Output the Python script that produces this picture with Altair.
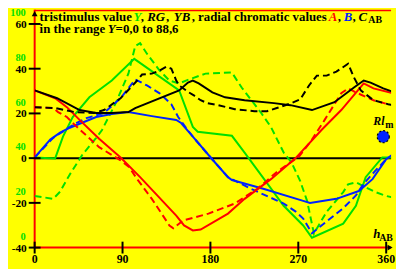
import altair as alt
import pandas as pd

# ---------------- data (hue angle in degrees) ----------------
# radial chroma C_AB (solid and dashed)
HUE_C = [0, 23, 46, 63, 79, 96, 103, 148, 157, 162, 168, 182, 195, 215, 245, 262, 284, 307, 327, 337, 344, 357, 371]
C_VAL = [30.3, 26.8, 21.5, 20.2, 20.2, 20.6, 22.4, 30.3, 33.8, 34.7, 33.4, 29.4, 27.2, 25.9, 24.6, 23.7, 21.5, 25.0, 31.6, 34.7, 33.8, 31.2, 29.0]
HUE_C2 = [0, 21, 41, 61, 71, 88, 105, 110, 120, 128, 135, 140, 145, 148, 158, 163, 170, 177, 188, 205,
          225, 238, 248, 263, 272, 281, 289, 299, 309, 321, 327, 334, 347, 362, 373]
C_VAL2 = [22.8, 22.4, 20.6, 20.2, 21.5, 26.8, 34.7, 37.4, 37.8, 39.2, 40.9, 40.0, 34.7, 32.5, 29.4, 28.1, 25.9, 24.6, 23.7, 21.9,
          21.0, 21.0, 22.4, 24.6, 26.3, 32.5, 36.9, 36.9, 38.7, 42.2, 36.1, 30.3, 25.9, 24.1, 23.3]
# chromatic value A (red)
HUE_A = [0, 21, 33, 46, 66, 88, 108, 145, 153, 162, 170, 198, 215, 242, 267, 294, 314, 331, 337, 347, 367]
A_VAL = [30.3, 26.8, 22.8, 17.1, 8.7, 0.3, -8.5, -25.7, -30.1, -32.3, -31.9, -24.8, -18.2, -9.4, -0.1, 12.7, 21.5, 30.3, 33.4, 31.2, 29.0]
HUE_A2 = [0, 19, 24, 33, 41, 66, 88, 97, 105, 120, 138, 142, 152, 178, 205, 228, 248, 271, 284, 297, 314, 321, 329, 347, 362]
A_VAL2 = [22.8, 22.4, 20.6, 18.4, 14.9, 4.9, -1.0, -4.1, -9.4, -18.2, -30.1, -31.4, -27.9, -24.8, -20.3, -13.7, -6.2, 0.8, 8.3, 17.1, 29.0, 31.2, 29.4, 25.9, 24.1]
# chromatic value B (blue)
HUE_B = [0, 16, 26, 36, 63, 79, 96, 120, 145, 150, 162, 182, 198, 202, 235, 275, 282, 309, 332, 346, 360, 373]
B_VAL = [0.3, 8.3, 11.4, 13.6, 18.4, 19.7, 20.6, 18.8, 17.1, 15.7, 9.6, -0.6, -8.5, -9.8, -13.8, -19.1, -20.0, -18.2, -14.7, -9.4, -0.5, 3.7]
HUE_B2 = [0, 19, 41, 53, 71, 88, 103, 115, 128, 140, 147, 155, 162, 182, 198, 222, 255, 267, 275, 284, 299, 316, 329, 337, 349, 360]
B_VAL2 = [0.3, 9.1, 15.3, 17.9, 20.2, 26.8, 35.2, 32.5, 29.0, 24.1, 18.4, 13.6, 9.6, -0.6, -8.5, -13.8, -20.3, -23.8, -27.0, -33.6, -28.3, -22.4, -16.7, -11.4, -5.6, -0.5]
# tristimulus value Y (green, on the green scale 0..100)
HUE_Y = [0, 21, 29, 39, 56, 79, 102, 148, 162, 167, 202, 215, 235, 255, 275, 284, 316, 329, 339, 356, 373]
Y_VAL = [35.9, 35.5, 45.2, 54.0, 62.8, 70.3, 80.0, 65.9, 49.6, 47.4, 45.6, 38.1, 26.2, 14.3, 5.5, 0.0, 6.3, 14.3, 27.1, 35.9, 35.9]
HUE_Y2 = [0, 19, 26, 36, 49, 63, 69, 83, 96, 103, 108, 115, 128, 138, 148, 155, 175, 202, 212, 222,
          232, 242, 255, 263, 272, 279, 286, 299, 316, 321, 329, 349, 360, 373]
Y_VAL2 = [18.7, 17.4, 20.6, 28.3, 37.2, 44.7, 48.2, 60.2, 73.4, 85.7, 87.0, 82.3, 74.8, 70.3, 69.0, 70.3, 73.4, 73.9, 67.2, 61.5,
          55.8, 49.5, 38.1, 33.7, 25.3, 16.5, 1.9, 11.6, 20.4, 23.9, 24.8, 20.4, 18.7, 17.4]
Y_OFFSET = 35.6  # green Y scale is shifted against the black scale

LEFT_TICKS = [-40, -20, 0, 20, 40, 60]
GREEN_TICKS = [0, 20, 40, 60, 80, 100]
X_TICKS = [0, 90, 180, 270, 360]
DOT_H = [357]
DOT_V = [9.6]

# ---------------- styling ----------------
RED = "#ff0000"
BLUE = "#0022ff"
GREEN = "#00e000"
BG = "#ffff00"
SERIF = "Liberation Serif"
W, H = 361, 241
xs = alt.Scale(domain=[0, 365], nice=False, zero=False)
ys = alt.Scale(domain=[-40, 66.4], nice=False, zero=False)
one = pd.DataFrame({"k": [0]})


def curve(h, v, color, dash=None, shift=0.0):
    df = pd.DataFrame({"h": h, "raw": v})
    kw = dict(color=color, strokeWidth=2, clip=True)
    if dash:
        kw["strokeDash"] = dash
    return (alt.Chart(df).transform_calculate(v=f"datum.raw - {shift}")
            .mark_line(**kw)
            .encode(x=alt.X("h:Q", scale=xs, axis=None), y=alt.Y("v:Q", scale=ys, axis=None)))


def txt(s, x, y, size=13, color="black", italic=False, align="left"):
    return alt.Chart(one).mark_text(
        text=s, font=SERIF, fontSize=size, fontWeight="bold",
        fontStyle="italic" if italic else "normal", color=color,
        align=align, baseline="alphabetic").encode(x=alt.value(x), y=alt.value(y))


DASH = [7, 4]
layers = []
# frame
layers.append(alt.Chart(one).mark_rule(color=RED, strokeWidth=2).encode(
    x=alt.value(0), y=alt.value(0), y2=alt.value(H)))
layers.append(alt.Chart(one).mark_rule(color=RED, strokeWidth=2).encode(
    x=alt.value(0), x2=alt.value(W), y=alt.value(H)))
layers.append(alt.Chart(one).mark_rule(color=RED, strokeWidth=1.5).encode(
    x=alt.value(0), x2=alt.value(W), y=alt.value(0.75)))
# zero line
zero = pd.DataFrame({"v": [0]})
layers.append(alt.Chart(zero).mark_rule(color="black", strokeWidth=2).encode(
    x=alt.value(0), x2=alt.value(W), y=alt.Y("v:Q", scale=ys, axis=None)))
# curves
layers += [
    curve(HUE_Y2, Y_VAL2, GREEN, DASH, Y_OFFSET),
    curve(HUE_Y, Y_VAL, GREEN, None, Y_OFFSET),
    curve(HUE_B2, B_VAL2, BLUE, DASH),
    curve(HUE_B, B_VAL, BLUE),
    curve(HUE_A2, A_VAL2, RED, DASH),
    curve(HUE_A, A_VAL, RED),
    curve(HUE_C2, C_VAL2, "black", DASH),
    curve(HUE_C, C_VAL, "black"),
]
# ticks
lt = pd.DataFrame({"v": LEFT_TICKS, "lab": [str(t) for t in LEFT_TICKS]})
layers.append(alt.Chart(lt).mark_rule(color="black", strokeWidth=2).encode(
    x=alt.value(-6), x2=alt.value(6), y=alt.Y("v:Q", scale=ys, axis=None)))
layers.append(alt.Chart(lt).mark_text(font=SERIF, fontSize=11.5, fontWeight="bold", align="right",
                                      baseline="middle", dy=1).encode(
    x=alt.value(-8), y=alt.Y("v:Q", scale=ys, axis=None), text="lab:N"))
gt = pd.DataFrame({"g": GREEN_TICKS, "lab": [str(t) for t in GREEN_TICKS]})
layers.append(alt.Chart(gt).transform_calculate(v=f"datum.g - {Y_OFFSET}").mark_text(
    font=SERIF, fontSize=10.5, fontWeight="bold", align="right", baseline="middle", dy=-1,
    color=GREEN).encode(x=alt.value(-9), y=alt.Y("v:Q", scale=ys, axis=None), text="lab:N"))
xt = pd.DataFrame({"h": X_TICKS, "lab": [str(t) for t in X_TICKS]})
layers.append(alt.Chart(xt).mark_rule(color="black", strokeWidth=2).encode(
    x=alt.X("h:Q", scale=xs, axis=None), y=alt.value(H - 6), y2=alt.value(H + 6)))
layers.append(alt.Chart(xt).mark_text(font=SERIF, fontSize=12, fontWeight="bold", align="center",
                                      baseline="alphabetic").encode(
    x=alt.X("h:Q", scale=xs, axis=None), y=alt.value(H + 16), text="lab:N"))
# arrowheads
layers.append(alt.Chart(one).mark_point(shape="triangle-up", filled=True, color="black", size=35,
                                        opacity=1).encode(x=alt.value(0), y=alt.value(4)))
layers.append(alt.Chart(one).mark_point(shape="triangle-right", filled=True, color="black", size=35,
                                        opacity=1).encode(x=alt.value(W - 1), y=alt.value(H)))
# blue dot with label
dot = pd.DataFrame({"h": DOT_H, "v": DOT_V})
layers.append(alt.Chart(dot).mark_point(filled=True, color=BLUE, size=150, opacity=1, stroke="black",
                                        strokeWidth=1.2, strokeDash=[2, 2]).encode(
    x=alt.X("h:Q", scale=xs, axis=None), y=alt.Y("v:Q", scale=ys, axis=None)))
layers.append(txt("Rl", 343, 117, size=12, italic=True))
layers.append(txt("m", 355, 120, size=10))
# axis name
layers.append(txt("h", 343, 231, size=13, italic=True))
layers.append(txt("AB", 349, 234, size=10))
# title, line 1
TY1, TY2 = 11, 24
layers += [
    txt("tristimulus value", 5, TY1),
    txt("Y", 100, TY1, color=GREEN, italic=True),
    txt(",", 107.5, TY1),
    txt("RG", 114, TY1, italic=True),
    txt(",", 133, TY1),
    txt("YB", 141, TY1, italic=True),
    txt(", radial chromatic values", 159, TY1),
    txt("A", 298, TY1, color=RED, italic=True),
    txt(",", 307, TY1),
    txt("B", 313, TY1, color=BLUE, italic=True),
    txt(",", 322, TY1),
    txt("C", 328, TY1, italic=True),
    txt("AB", 338, TY1 + 3, size=10),
]
# title, line 2
layers += [
    txt("in the range", 5, TY2),
    txt("Y", 74, TY2, italic=True),
    txt("=0,0 to 88,6", 82, TY2),
]

chart = alt.layer(*layers).properties(
    width=W, height=H,
    autosize=alt.AutoSizeParams(type="none"),
    padding={"left": 27, "top": 0, "right": 5, "bottom": 20},
    background=BG,
).configure_view(stroke=None)

chart.save("out.html", embed_options={"renderer": "svg", "actions": False})
